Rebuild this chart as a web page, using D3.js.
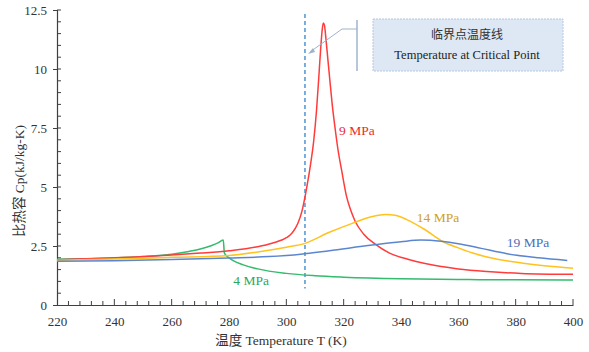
<!DOCTYPE html>
<html>
<head>
<meta charset="utf-8">
<script src="https://cdn.jsdelivr.net/npm/d3@7"></script>
<style>
  body { margin: 0; background: #fff; }
</style>
</head>
<body>
<div id="content"></div>
<script>
// values
const xTicks = [220, 240, 260, 280, 300, 320, 340, 360, 380, 400]
const yTicks = [0, 2.5, 5, 7.5, 10, 12.5]
const criticalT = 306.5

const t4 = [220, 230, 240, 250, 260, 266, 270, 274, 276, 278, 278.4, 280, 285, 290, 300, 310, 320, 340, 360, 380, 400]
const cp4 = [1.94, 1.96, 1.99, 2.05, 2.15, 2.27, 2.37, 2.52, 2.62, 2.75, 2.2, 2.0, 1.7, 1.53, 1.34, 1.24, 1.18, 1.11, 1.08, 1.07, 1.06]

const t9 = [220, 240, 260, 270, 280, 290, 295, 300, 302, 304, 305.5, 307, 308.5, 309.5, 310.5, 311.3, 312.0, 312.5, 312.9, 313.3, 313.8, 314.5, 315.2, 316.0, 317.0, 318.0, 319.3, 321, 322.5, 324, 327, 331, 336, 343, 348, 360, 370, 382, 400]
const cp9 = [1.92, 2.0, 2.12, 2.2, 2.3, 2.47, 2.62, 2.85, 3.05, 3.45, 4.0, 4.9, 6.0, 6.9, 8.2, 9.6, 10.9, 11.65, 11.95, 11.85, 11.3, 10.4, 9.5, 8.5, 7.5, 6.6, 5.7, 4.6, 4.0, 3.55, 3.0, 2.58, 2.2, 1.92, 1.77, 1.53, 1.42, 1.34, 1.30]

const t14 = [220, 240, 260, 280, 290, 300, 306.5, 315, 323, 330, 334.5, 338, 342, 348, 354.7, 360, 365, 372, 382, 390, 400]
const cp14 = [1.9, 1.95, 2.02, 2.1, 2.25, 2.45, 2.61, 3.08, 3.46, 3.75, 3.84, 3.8, 3.62, 3.22, 2.68, 2.42, 2.2, 1.98, 1.78, 1.66, 1.56]

const t19 = [220, 240, 260, 280, 294, 305, 315, 330, 340, 347, 354, 360, 368, 377, 388, 398]
const cp19 = [1.85, 1.88, 1.93, 1.99, 2.05, 2.15, 2.3, 2.54, 2.68, 2.75, 2.7, 2.6, 2.4, 2.17, 2.0, 1.89]

const seriesNames = ["4 MPa", "9 MPa", "14 MPa", "19 MPa"]
const seriesT = [t4, t9, t14, t19]
const seriesCp = [cp4, cp9, cp14, cp19]
const lineColors = ["#33bb6e", "#ff3b3b", "#ffc21e", "#5b86cf"]
const labelColors = ["#2aa85f", "#ee2a2a", "#d2a019", "#4a70b8"]
// label anchor in data space [T, Cp]
const labelAt = [[287.7, 1.06], [324.6, 7.42], [352.9, 3.73], [384.3, 2.67]]

const font = "'Liberation Serif', 'Times New Roman', 'DejaVu Serif', 'Noto Sans CJK SC', serif"

const width = 589
const height = 352
const margin = {top: 10, right: 16, bottom: 47, left: 57}
const innerW = width - margin.left - margin.right
const innerH = height - margin.top - margin.bottom

const svg = d3.select("#content").append("svg")
    .attr("width", width)
    .attr("height", height)
    .style("font-family", font)

const wrapper = svg.append("g")
    .attr("transform", `translate(${margin.left}, ${margin.top})`)

const xScale = d3.scaleLinear().domain([220, 400]).range([0, innerW])
const yScale = d3.scaleLinear().domain([0, 12.5]).range([innerH, 0])

// axes
const axisColor = "#404040"
const xAxis = wrapper.append("g")
    .attr("transform", `translate(0, ${innerH})`)
    .call(d3.axisBottom(xScale).tickValues(xTicks).tickSize(0).tickPadding(12))
xAxis.attr("font-family", null)
xAxis.select(".domain").attr("stroke", axisColor).attr("stroke-width", 1.2)
xAxis.selectAll("text").style("font-size", "13px").style("font-family", font).attr("fill", "#333")

// x ticks point up into the plot
wrapper.append("g").selectAll("line")
    .data(d3.range(224, 401, 4))
    .join("line")
    .attr("x1", d => xScale(d)).attr("x2", d => xScale(d))
    .attr("y1", innerH).attr("y2", d => innerH - ((d - 220) % 20 === 0 ? 6 : 4))
    .attr("stroke", axisColor)

const yAxis = wrapper.append("g")
    .call(d3.axisLeft(yScale).tickValues(yTicks).tickSize(4).tickPadding(6).tickFormat(d3.format("")))
yAxis.attr("font-family", null)
yAxis.select(".domain").attr("stroke", axisColor).attr("stroke-width", 1.2)
yAxis.selectAll("line").attr("stroke", axisColor)
yAxis.selectAll("text").style("font-size", "13px").style("font-family", font).attr("fill", "#333")

wrapper.append("g").selectAll("line")
    .data(d3.range(0.5, 12.51, 0.5))
    .join("line")
    .attr("x1", 0).attr("x2", 4)
    .attr("y1", d => yScale(d)).attr("y2", d => yScale(d))
    .attr("stroke", axisColor)

// axis titles
svg.append("text")
    .attr("x", 281)
    .attr("y", 345)
    .style("text-anchor", "middle")
    .style("font-size", "13.5px")
    .attr("fill", "#333")
    .text("温度 Temperature T (K)")

svg.append("text")
    .attr("transform", "rotate(-90)")
    .attr("x", -181)
    .attr("y", 24)
    .style("text-anchor", "middle")
    .style("font-size", "13.5px")
    .attr("fill", "#333")
    .text("比热容  Cp(kJ/kg-K)")

// critical temperature line
wrapper.append("line")
    .attr("x1", xScale(criticalT)).attr("x2", xScale(criticalT))
    .attr("y1", 4).attr("y2", yScale(0.7))
    .attr("stroke", "#5b9bd5")
    .attr("stroke-width", 1.6)
    .attr("stroke-dasharray", "4,3")

// curves
const line = d3.line()
    .x(d => xScale(d[0]))
    .y(d => yScale(d[1]))
    .curve(d3.curveMonotoneX)

seriesT.forEach((ts, i) => {
    wrapper.append("path")
        .datum(ts.map((t, j) => [t, seriesCp[i][j]]))
        .attr("fill", "none")
        .attr("stroke", lineColors[i])
        .attr("stroke-width", 1.5)
        .attr("d", line)
})

// series labels
seriesNames.forEach((name, i) => {
    wrapper.append("text")
        .attr("x", xScale(labelAt[i][0]))
        .attr("y", yScale(labelAt[i][1]) + 5)
        .style("text-anchor", "middle")
        .style("font-size", "13.5px")
        .attr("fill", labelColors[i])
        .text(name)
})

// callout box
const callout = svg.append("g")
callout.append("rect")
    .attr("x", 373).attr("y", 19)
    .attr("width", 190).attr("height", 52)
    .attr("fill", "#dde8f4")
    .attr("stroke", "#b4c8e0")
    .attr("stroke-dasharray", "2,1")
callout.append("text")
    .attr("x", 467).attr("y", 39)
    .style("text-anchor", "middle")
    .style("font-size", "12px")
    .attr("fill", "#333")
    .text("临界点温度线")
callout.append("text")
    .attr("x", 467).attr("y", 59)
    .style("text-anchor", "middle")
    .style("font-size", "12.5px")
    .attr("fill", "#222")
    .text("Temperature at Critical Point")
callout.append("line")
    .attr("x1", 357).attr("x2", 357).attr("y1", 20).attr("y2", 71)
    .attr("stroke", "#9fb3cc").attr("stroke-width", 1.5)
callout.append("polyline")
    .attr("points", "357,29 342,29 310,52")
    .attr("fill", "none")
    .attr("stroke", "#9fb3cc").attr("stroke-width", 1)
callout.append("path")
    .attr("d", "M308,54 L313,48 L315,52 Z")
    .attr("fill", "#9fb3cc")
</script>
</body>
</html>
